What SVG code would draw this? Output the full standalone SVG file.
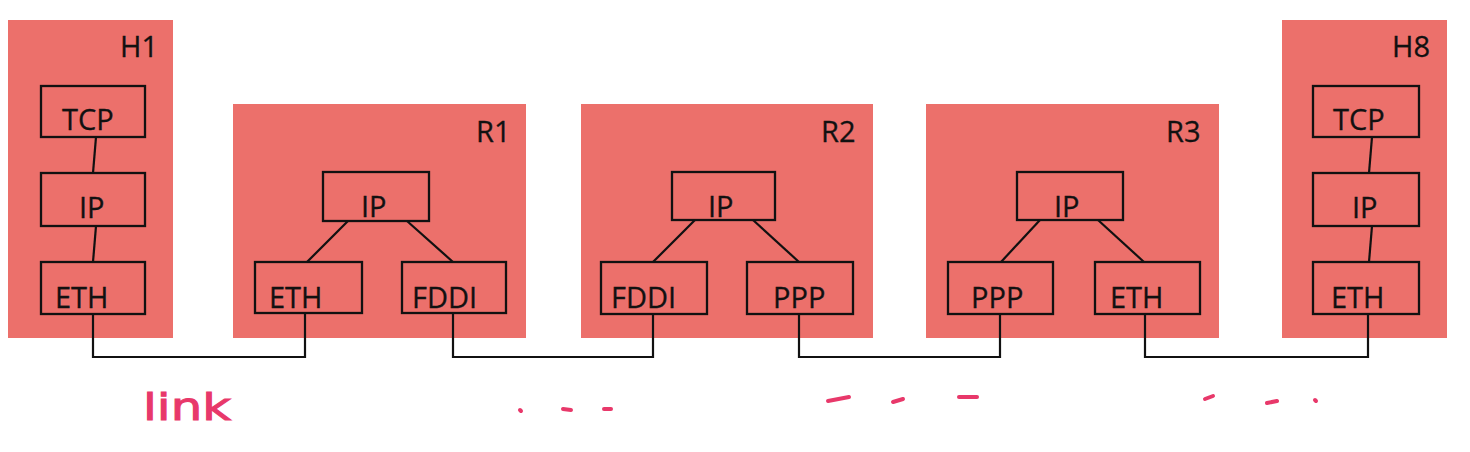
<svg xmlns="http://www.w3.org/2000/svg" width="1470" height="452" viewBox="0 0 1470 452">
<style>
.dev{fill:#ec706b;stroke:none}
.box{fill:none;stroke:#111;stroke-width:2.3}
.t{font-family:"Open Sans","Liberation Sans",sans-serif;font-size:29px;fill:#111;stroke:#111;stroke-width:0.3}
.ln{stroke:#111;stroke-width:2.2;fill:none}
.pk{stroke:#e8386a;stroke-width:4;stroke-linecap:round;fill:none}
.hw{font-family:"DejaVu Sans","Liberation Sans",sans-serif;font-size:38px;fill:#e8386a;stroke:#e8386a;stroke-width:1}
</style>
<rect width="1470" height="452" fill="#fff"/>
<g id="H1">
<rect class="dev" x="8" y="20" width="165" height="318"/>
<text class="t" x="120" y="57">H1</text>
<rect class="box" x="41" y="86" width="104" height="51"/>
<text class="t" x="62" y="130">TCP</text>
<rect class="box" x="41" y="173" width="104" height="53"/>
<text class="t" x="79" y="218">IP</text>
<rect class="box" x="41" y="262" width="104" height="52"/>
<text class="t" x="55" y="308">ETH</text>
<line class="ln" x1="96" y1="137" x2="93" y2="173"/>
<line class="ln" x1="96" y1="226" x2="93" y2="262"/>
</g>
<g id="R1">
<rect class="dev" x="233" y="104" width="293" height="234"/>
<text class="t" x="476" y="142">R1</text>
<rect class="box" x="323" y="172" width="106" height="49"/>
<text class="t" x="361" y="217">IP</text>
<rect class="box" x="255" y="262" width="107" height="51"/>
<text class="t" x="269" y="308">ETH</text>
<rect class="box" x="402" y="262" width="104" height="51"/>
<text class="t" x="412" y="308">FDDI</text>
<line class="ln" x1="348" y1="221" x2="307" y2="262"/>
<line class="ln" x1="407" y1="221" x2="453" y2="262"/>
</g>
<g id="R2">
<rect class="dev" x="581" y="104" width="292" height="234"/>
<text class="t" x="821" y="142">R2</text>
<rect class="box" x="672" y="172" width="103" height="48"/>
<text class="t" x="708" y="217">IP</text>
<rect class="box" x="601" y="262" width="106" height="52"/>
<text class="t" x="611" y="308">FDDI</text>
<rect class="box" x="747" y="262" width="106" height="52"/>
<text class="t" x="773" y="308">PPP</text>
<line class="ln" x1="695" y1="220" x2="653" y2="262"/>
<line class="ln" x1="753" y1="220" x2="799" y2="262"/>
</g>
<g id="R3">
<rect class="dev" x="926" y="104" width="293" height="234"/>
<text class="t" x="1166" y="142">R3</text>
<rect class="box" x="1017" y="172" width="106" height="48"/>
<text class="t" x="1054" y="217">IP</text>
<rect class="box" x="948" y="262" width="105" height="52"/>
<text class="t" x="971" y="308">PPP</text>
<rect class="box" x="1095" y="262" width="105" height="52"/>
<text class="t" x="1110" y="308">ETH</text>
<line class="ln" x1="1040" y1="220" x2="1001" y2="262"/>
<line class="ln" x1="1098" y1="220" x2="1144" y2="262"/>
</g>
<g id="H8">
<rect class="dev" x="1282" y="20" width="165" height="318"/>
<text class="t" x="1392" y="57">H8</text>
<rect class="box" x="1313" y="86" width="106" height="51"/>
<text class="t" x="1333" y="130">TCP</text>
<rect class="box" x="1313" y="173" width="106" height="53"/>
<text class="t" x="1352" y="218">IP</text>
<rect class="box" x="1313" y="262" width="106" height="52"/>
<text class="t" x="1331" y="308">ETH</text>
<line class="ln" x1="1372" y1="137" x2="1369" y2="173"/>
<line class="ln" x1="1372" y1="226" x2="1369" y2="262"/>
</g>
<g id="links">
<polyline class="ln" points="93,314 93,357 305,357 305,313"/>
<polyline class="ln" points="453,313 453,357 653,357 653,314"/>
<polyline class="ln" points="799,314 799,357 1000,357 1000,314"/>
<polyline class="ln" points="1145,314 1145,357 1368,357 1368,314"/>
</g>
<g id="annotations">
<text class="hw" x="143" y="420" textLength="88" lengthAdjust="spacingAndGlyphs">link</text>
<line class="pk" x1="520" y1="410" x2="521" y2="411"/>
<line class="pk" x1="563" y1="409" x2="571" y2="410"/>
<line class="pk" x1="604" y1="409" x2="611" y2="409"/>
<line class="pk" x1="828" y1="401" x2="849" y2="397"/>
<line class="pk" x1="893" y1="402" x2="903" y2="399"/>
<line class="pk" x1="959" y1="397" x2="977" y2="397"/>
<line class="pk" x1="1205" y1="399" x2="1213" y2="396"/>
<line class="pk" x1="1267" y1="403" x2="1277" y2="401"/>
<line class="pk" x1="1315" y1="400" x2="1316" y2="401"/>
</g>
</svg>
